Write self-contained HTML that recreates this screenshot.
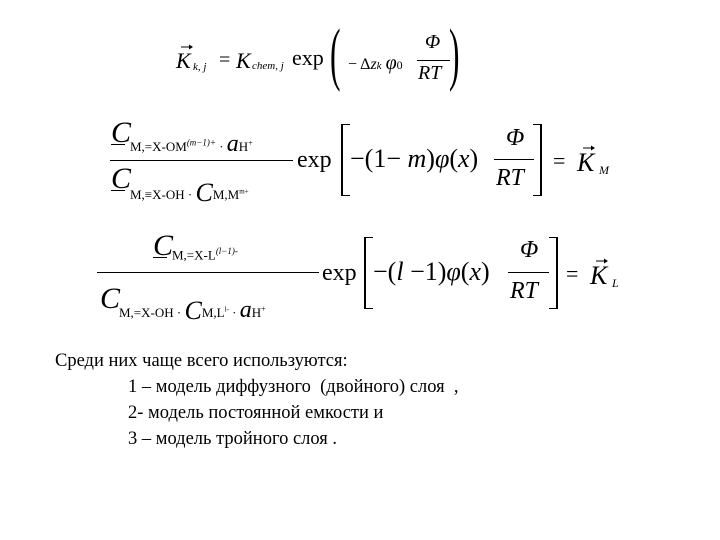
<!DOCTYPE html>
<html><head><meta charset="utf-8"><style>
body{margin:0;width:720px;height:540px;background:#fff;position:relative;overflow:hidden;font-family:"Liberation Serif",serif;color:#000}
.a{position:absolute;line-height:1;white-space:nowrap}
.i{font-style:italic}
.l{position:absolute;background:#000;height:1px}
.t{font-size:18.5px}
svg.v{position:absolute;width:14px;height:6px}
</style></head><body>
<!-- Eq 1 -->
<svg class="v" style="left:180px;top:44px" viewBox="0 0 14 6"><line x1="1" y1="3" x2="12" y2="3" stroke="#000" stroke-width="1"/><path d="M9 0.5L13 3L9 5.5Z"/></svg>
<span class="a i" style="left:176px;top:50px;font-size:22px">K</span>
<span class="a i" style="left:193px;top:62px;font-size:11px">k, j</span>
<span class="a" style="left:219px;top:50px;font-size:20px">=</span>
<span class="a i" style="left:236px;top:50px;font-size:22px">K</span>
<span class="a i" style="left:252px;top:61px;font-size:11px">chem, j</span>
<span class="a" style="left:292px;top:47px;font-size:22px">exp</span>
<span class="a" style="left:330px;top:20px;font-size:70px;transform:scaleX(0.45);transform-origin:left">(</span>
<span class="a" style="left:348px;top:53px;font-size:16px">− Δ<i>z</i><i style="font-size:11px">k</i> <i style="font-size:20px">φ</i><span style="font-size:12px">0</span></span>
<span class="a i" style="left:425px;top:32px;font-size:20px">Φ</span>
<div class="l" style="left:417px;top:60px;width:33px"></div>
<span class="a i" style="left:418px;top:63px;font-size:20px">RT</span>
<span class="a" style="left:449px;top:20px;font-size:70px;transform:scaleX(0.45);transform-origin:left">)</span>

<!-- Eq 2 -->
<span class="a i" style="left:111px;top:118px;font-size:30px">C</span>
<span class="a" style="left:111px;top:144px;font-size:12px;border-top:1px solid #000;width:14px"></span>
<span class="a" style="left:130px;top:132px;font-size:13px">M,=X-OM<sup style="font-size:9px;font-style:italic">(m−1)+</sup> · <i style="font-size:24px">a</i>H<sup style="font-size:8px">+</sup></span>
<div class="l" style="left:110px;top:160px;width:183px"></div>
<span class="a i" style="left:111px;top:164px;font-size:30px">C</span>
<span class="a" style="left:111px;top:190px;font-size:12px;border-top:1px solid #000;width:14px"></span>
<span class="a" style="left:130px;top:180px;font-size:13px">M,≡X-OH · <i style="font-size:26px;vertical-align:-2px">C</i>M,M<sup style="font-size:7px">m+</sup></span>
<span class="a" style="left:297px;top:148px;font-size:24px">exp</span>
<div class="l" style="left:341px;top:124px;width:2px;height:72px"></div>
<div class="l" style="left:341px;top:124px;width:9px"></div>
<div class="l" style="left:341px;top:195px;width:9px"></div>
<span class="a" style="left:350px;top:146px;font-size:26px">−(1− <i>m</i>)<i>φ</i>(<i>x</i>)</span>
<span class="a i" style="left:506px;top:126px;font-size:24px">Φ</span>
<div class="l" style="left:494px;top:159px;width:40px"></div>
<span class="a i" style="left:496px;top:166px;font-size:24px">RT</span>
<div class="l" style="left:540px;top:124px;width:2px;height:72px"></div>
<div class="l" style="left:533px;top:124px;width:9px"></div>
<div class="l" style="left:533px;top:195px;width:9px"></div>
<span class="a" style="left:553px;top:150px;font-size:22px">=</span>
<svg class="v" style="left:582px;top:145px" viewBox="0 0 14 6"><line x1="1" y1="3" x2="12" y2="3" stroke="#000" stroke-width="1"/><path d="M9 0.5L13 3L9 5.5Z"/></svg>
<span class="a i" style="left:577px;top:150px;font-size:26px">K</span>
<span class="a i" style="left:599px;top:164px;font-size:12px">M</span>

<!-- Eq 3 -->
<span class="a i" style="left:153px;top:231px;font-size:30px">C</span>
<span class="a" style="left:153px;top:257px;font-size:12px;border-top:1px solid #000;width:14px"></span>
<span class="a" style="left:172px;top:247px;font-size:13px">M,=X-L<sup style="font-size:9px;font-style:italic">(l−1)-</sup></span>
<div class="l" style="left:97px;top:272px;width:222px"></div>
<span class="a i" style="left:100px;top:284px;font-size:30px">C</span>
<span class="a" style="left:119px;top:298px;font-size:13px">M,=X-OH · <i style="font-size:26px;vertical-align:-2px">C</i>M,L<sup style="font-size:7px">l-</sup> · <i style="font-size:24px">a</i>H<sup style="font-size:8px">+</sup></span>
<span class="a" style="left:322px;top:261px;font-size:24px">exp</span>
<div class="l" style="left:364px;top:237px;width:2px;height:72px"></div>
<div class="l" style="left:364px;top:237px;width:9px"></div>
<div class="l" style="left:364px;top:308px;width:9px"></div>
<span class="a" style="left:373px;top:259px;font-size:26px">−(<i>l</i> −1)<i>φ</i>(<i>x</i>)</span>
<span class="a i" style="left:520px;top:238px;font-size:24px">Φ</span>
<div class="l" style="left:508px;top:272px;width:41px"></div>
<span class="a i" style="left:510px;top:279px;font-size:24px">RT</span>
<div class="l" style="left:556px;top:237px;width:2px;height:72px"></div>
<div class="l" style="left:549px;top:237px;width:9px"></div>
<div class="l" style="left:549px;top:308px;width:9px"></div>
<span class="a" style="left:566px;top:263px;font-size:22px">=</span>
<svg class="v" style="left:595px;top:258px" viewBox="0 0 14 6"><line x1="1" y1="3" x2="12" y2="3" stroke="#000" stroke-width="1"/><path d="M9 0.5L13 3L9 5.5Z"/></svg>
<span class="a i" style="left:590px;top:263px;font-size:26px">K</span>
<span class="a i" style="left:612px;top:277px;font-size:12px">L</span>

<!-- Text -->
<span class="a t" style="left:55px;top:352px">Среди них чаще всего используются:</span>
<span class="a t" style="left:128px;top:378px">1 – модель диффузного&nbsp; (двойного) слоя&nbsp; ,</span>
<span class="a t" style="left:128px;top:404px">2- модель постоянной емкости и</span>
<span class="a t" style="left:128px;top:430px">3 – модель тройного слоя .</span>
</body></html>
